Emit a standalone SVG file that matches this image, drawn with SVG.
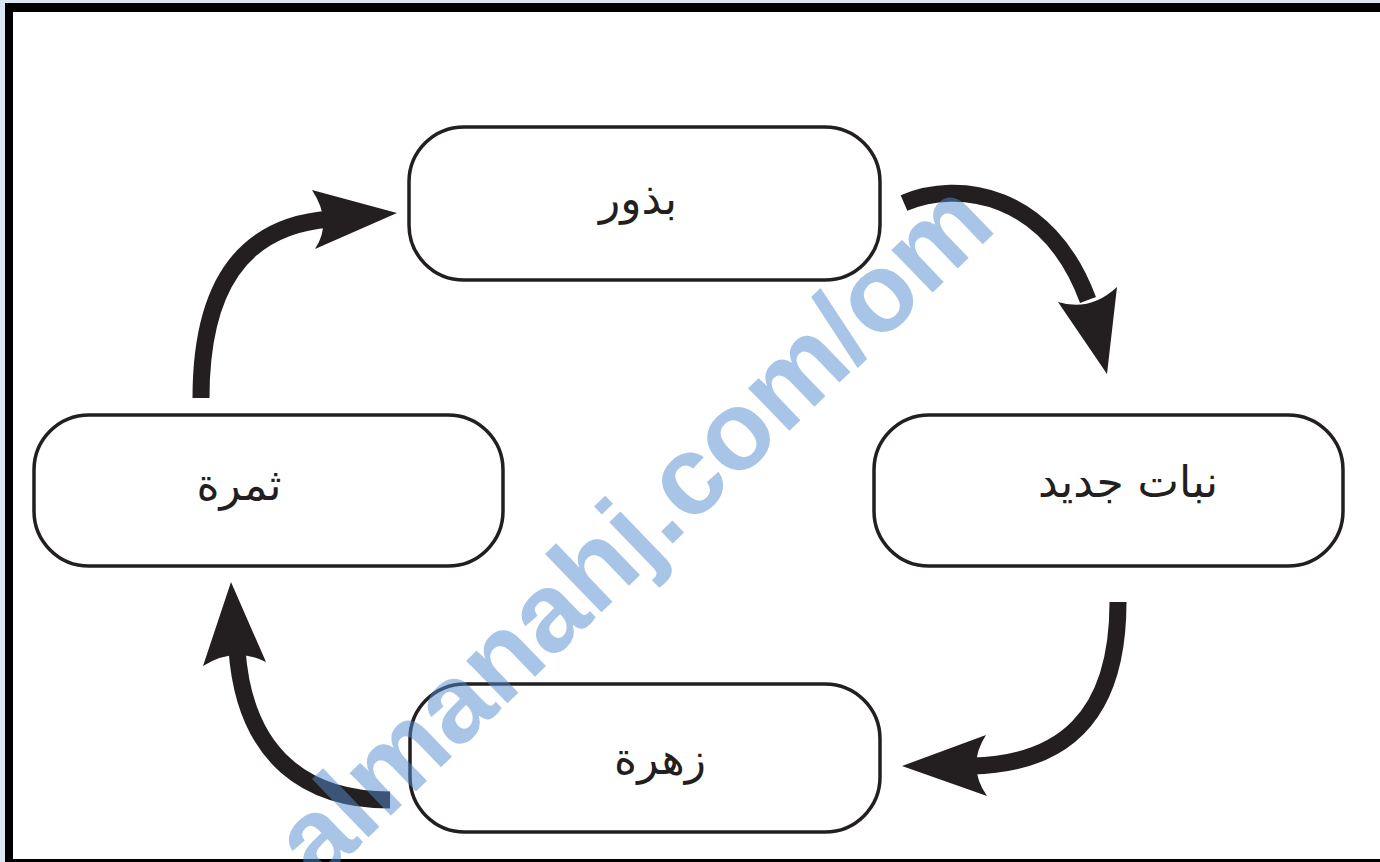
<svg xmlns="http://www.w3.org/2000/svg" width="1380" height="862" viewBox="0 0 1380 862">
  <defs>
    <style>
      .box { fill: #ffffff; stroke: #231f20; stroke-width: 3.5; }
      .lbl { font-family: "DejaVu Sans", "Noto Sans", sans-serif; font-size: 44px; fill: #231f20; text-anchor: middle; }
      .shaft { fill: none; stroke: #231f20; stroke-width: 17; stroke-linecap: butt; }
      .head { fill: #231f20; stroke: none; }
      .wm { font-family: "Liberation Sans", Arial, sans-serif; font-weight: bold; font-size: 112px; fill: #518cd0; fill-opacity: 0.5; }
    </style>
  </defs>

  <!-- frame -->
  <rect x="0" y="0" width="1380" height="862" fill="#dce6f2"/>
  <rect x="5" y="3" width="1375" height="859" fill="#000000"/>
  <rect x="13" y="12" width="1367" height="847" fill="#ffffff"/>

  <!-- connectors -->
  <g id="connectors">
    <g id="arrow-fruit-seeds">
      <path class="shaft" d="M201,398 C201,290 240,226 330,219"/>
      <path class="head" d="M312,190 L397,213 L315,249 Q333,222 312,190 Z"/>
    </g>
    <g id="arrow-seeds-plant">
      <path class="shaft" d="M904,203 C958,180 1048,192 1088,300"/>
      <path class="head" d="M1058,302 L1107,374 L1117,287 Q1090,312 1058,302 Z"/>
    </g>
    <g id="arrow-plant-flower">
      <path class="shaft" d="M1118,602 C1118,720 1060,764 972,766"/>
      <path class="head" d="M986,735 L902,766 L987,796 Q966,766 986,735 Z"/>
    </g>
    <g id="arrow-flower-fruit">
      <path class="shaft" d="M390,800 C310,800 245,760 237,650"/>
      <path class="head" d="M203,666 L231,582 L266,662 Q234,646 203,666 Z"/>
    </g>
  </g>

  <!-- nodes -->
  <g id="node-seeds">
    <rect class="box" x="409" y="127" width="471" height="153" rx="55" ry="55"/>
    <text class="lbl" x="638" y="214">بذور</text>
  </g>
  <g id="node-plant">
    <rect class="box" x="874" y="415" width="469" height="151" rx="55" ry="55"/>
    <text class="lbl" x="1128" y="497">نبات جديد</text>
  </g>
  <g id="node-fruit">
    <rect class="box" x="34" y="415" width="469" height="151" rx="55" ry="55"/>
    <text class="lbl" x="239" y="500">ثمرة</text>
  </g>
  <g id="node-flower">
    <rect class="box" x="410" y="684" width="470" height="148" rx="55" ry="55"/>
    <text class="lbl" x="660" y="774">زهرة</text>
  </g>

  <!-- watermark -->
  <text class="wm" transform="translate(318,886) rotate(-44)" x="0" y="0">almanahj.com/om</text>
</svg>
